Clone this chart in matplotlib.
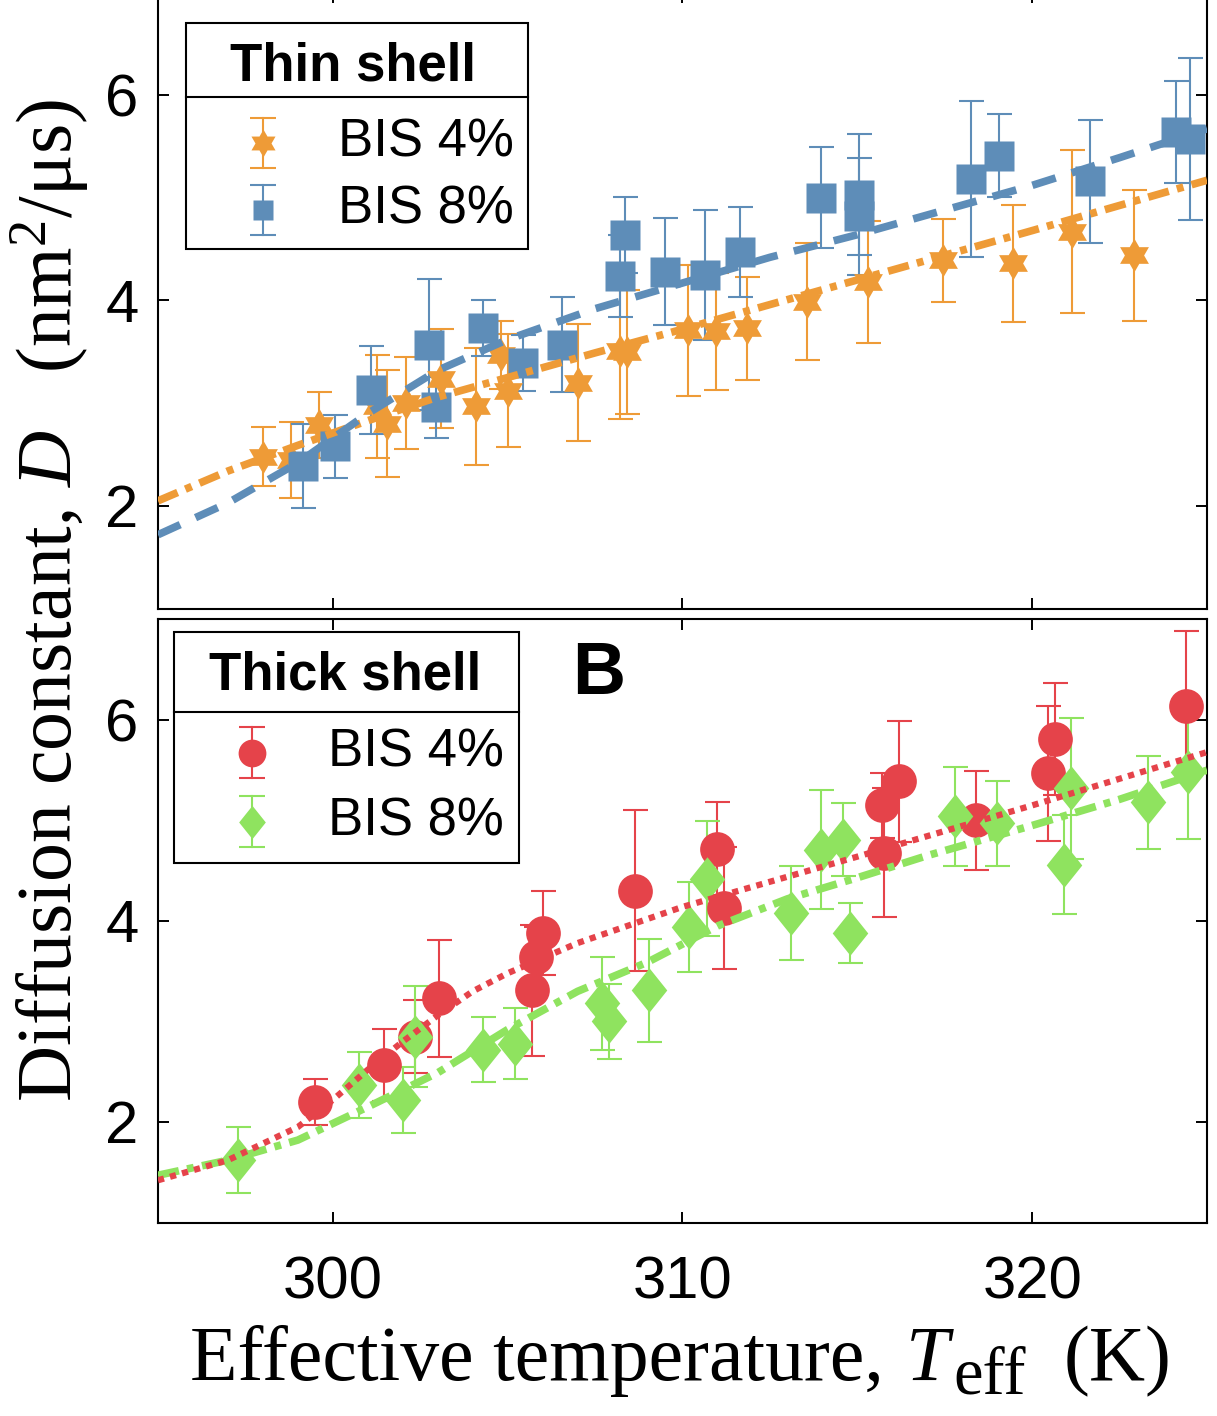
import numpy as np
import matplotlib
matplotlib.use("Agg")
import matplotlib.pyplot as plt
from matplotlib.patches import Rectangle

plt.rcParams["font.family"] = ["Liberation Sans", "DejaVu Sans"]
plt.rcParams["mathtext.fontset"] = "custom"
plt.rcParams["mathtext.rm"] = "Liberation Serif"
plt.rcParams["mathtext.it"] = "Liberation Serif:italic"

# ---- data ----
# thin shell, BIS 4 %
t4_x = [298.0, 298.8, 299.6, 301.25, 301.55, 302.1, 303.1, 304.1, 304.8, 305.0, 307.0,
        308.2, 308.4, 310.15, 310.95, 311.85, 313.55, 315.3, 317.45, 319.45, 321.15, 322.9]
t4_y = [2.48, 2.45, 2.79, 2.97, 2.80, 3.00, 3.24, 2.97, 3.47, 3.12, 3.20,
        3.51, 3.50, 3.71, 3.70, 3.73, 3.99, 4.18, 4.39, 4.36, 4.67, 4.44]
t4_e = [0.29, 0.37, 0.32, 0.50, 0.52, 0.45, 0.48, 0.57, 0.33, 0.55, 0.57,
        0.66, 0.60, 0.64, 0.57, 0.50, 0.57, 0.59, 0.40, 0.57, 0.79, 0.64]

# thin shell, BIS 8 %
t8_x = [299.15, 300.05, 301.1, 302.75, 302.95, 304.3, 305.45, 306.55, 308.2, 308.35, 309.5,
        310.65, 311.65, 313.95, 315.05, 315.05, 318.25, 319.05, 321.65, 324.1, 324.5]
t8_y = [2.39, 2.58, 3.13, 3.57, 2.96, 3.73, 3.39, 3.57, 4.24, 4.64, 4.28,
        4.25, 4.47, 5.00, 5.03, 4.82, 5.18, 5.41, 5.16, 5.64, 5.57]
t8_e = [0.41, 0.31, 0.43, 0.64, 0.30, 0.27, 0.27, 0.46, 0.40, 0.37, 0.52,
        0.63, 0.44, 0.49, 0.59, 0.57, 0.76, 0.40, 0.60, 0.50, 0.79]

# thick shell, BIS 4 %
k4_x = [299.5, 301.45, 302.35, 303.05, 305.7, 305.8, 306.0, 308.65, 311.0, 311.2,
        315.7, 315.75, 316.2, 318.4, 320.45, 320.65, 324.4]
k4_y = [2.20, 2.57, 2.85, 3.23, 3.31, 3.64, 3.88, 4.30, 4.72, 4.13,
        5.15, 4.68, 5.39, 5.00, 5.47, 5.81, 6.14]
k4_e = [0.23, 0.36, 0.36, 0.58, 0.65, 0.30, 0.42, 0.80, 0.46, 0.61,
        0.32, 0.64, 0.60, 0.49, 0.67, 0.56, 0.74]

# thick shell, BIS 8 %
k8_x = [297.3, 300.75, 302.0, 302.35, 304.3, 305.2, 307.7, 307.9, 309.05, 310.2, 310.7,
        313.1, 313.95, 314.6, 314.8, 317.8, 319.0, 320.9, 321.1, 323.3, 324.45]
k8_y = [1.62, 2.37, 2.22, 2.85, 2.72, 2.78, 3.18, 3.00, 3.31, 3.94, 4.42,
        4.08, 4.71, 4.81, 3.88, 5.04, 4.97, 4.56, 5.32, 5.18, 5.48]
k8_e = [0.33, 0.33, 0.33, 0.50, 0.32, 0.35, 0.46, 0.37, 0.51, 0.45, 0.57,
        0.47, 0.59, 0.36, 0.30, 0.49, 0.42, 0.49, 0.70, 0.46, 0.66]

# fitted curves
fit_t4_x = [295, 297, 299, 301, 303, 305, 307.5, 310, 315, 320, 325]
fit_t4_y = [2.05, 2.34, 2.59, 2.83, 3.06, 3.25, 3.49, 3.72, 4.20, 4.68, 5.17]
fit_t8_x = [295, 297, 299, 301, 303, 305, 307.5, 310, 312.5, 315, 317.5, 320, 322.5, 325]
fit_t8_y = [1.72, 2.03, 2.42, 2.90, 3.32, 3.62, 3.92, 4.17, 4.42, 4.64, 4.88, 5.12, 5.39, 5.67]
fit_k4_x = [295, 297, 299, 300, 301, 302, 303, 304, 305, 307, 310, 315, 320, 325]
fit_k4_y = [1.42, 1.62, 1.95, 2.22, 2.52, 2.80, 3.06, 3.30, 3.48, 3.78, 4.14, 4.64, 5.15, 5.68]
fit_k8_x = [295, 297, 299, 301, 303, 305, 307, 309, 311, 313, 315, 317, 320, 322.5, 325]
fit_k8_y = [1.47, 1.62, 1.82, 2.15, 2.49, 2.92, 3.30, 3.59, 3.95, 4.22, 4.43, 4.65, 4.95, 5.21, 5.50]

series_labels = ["BIS 4%", "BIS 8%"]
x_ticks = [300, 310, 320]
y_ticks = [2, 4, 6]

# ---- styles ----
ORANGE = "#EE9B37"
BLUE = "#5E8DB8"
RED = "#E5434A"
GREEN = "#8FE35F"

ang = np.pi / 2 + np.arange(12) * np.pi / 6
rad = np.where(np.arange(12) % 2 == 0, 1.0, 1 / np.sqrt(3))
HEXAGRAM = np.column_stack([rad * np.cos(ang), rad * np.sin(ang)])
DIAMOND = np.array([[0, 1], [0.8, 0], [0, -1], [-0.8, 0], [0, 1]])


def draw_series(ax, x, y, e, color, marker, ms):
    ax.errorbar(x, y, yerr=e, fmt="none", ecolor=color, elinewidth=1.5,
                capsize=9, capthick=1.5, zorder=2)
    ax.plot(x, y, linestyle="none", marker=marker, ms=ms, color=color,
            mec="none", zorder=3)


def draw_legend(ax, box, sep_y, title, title_xy, rows, mark_x, text_x, half):
    x0, y0, x1, y1 = box
    ax.add_patch(Rectangle((x0, y0), x1 - x0, y1 - y0, transform=ax.transAxes,
                           facecolor="white", edgecolor="black", lw=1.5, zorder=10))
    ax.plot([x0, x1], [sep_y, sep_y], color="black", lw=1.5,
            transform=ax.transAxes, zorder=11)
    ax.text(title_xy[0], title_xy[1], title, transform=ax.transAxes, ha="center",
            va="center", fontsize=38, fontweight="bold", zorder=11)
    for (yy, color, marker, ms, label) in rows:
        ax.plot([mark_x, mark_x], [yy - half, yy + half], color=color, lw=1.5,
                marker="_", ms=19, mew=1.5, transform=ax.transAxes, zorder=11)
        ax.plot([mark_x], [yy], marker=marker, ms=ms, color=color, mec="none",
                linestyle="none", transform=ax.transAxes, zorder=12)
        ax.text(text_x, yy, label, transform=ax.transAxes, ha="left",
                va="center", fontsize=38, zorder=11)


fig = plt.figure(figsize=(12.17, 14.16), dpi=100)
ax1 = fig.add_axes([0.1298, 0.5701, 0.862, 0.4354])
ax2 = fig.add_axes([0.1298, 0.13665, 0.862, 0.4259])

# top panel: thin shell
draw_series(ax1, t4_x, t4_y, t4_e, ORANGE, HEXAGRAM, 24)
draw_series(ax1, t8_x, t8_y, t8_e, BLUE, "s", 22)
ax1.plot(fit_t4_x, fit_t4_y, color=ORANGE, lw=5.5, dashes=(2.8, 1.1, 0.9, 1.1),
         dash_capstyle="butt", zorder=4)
ax1.plot(fit_t8_x, fit_t8_y, color=BLUE, lw=5.5, dashes=(3.2, 2.2),
         dash_capstyle="butt", zorder=4)

# bottom panel: thick shell
draw_series(ax2, k4_x, k4_y, k4_e, RED, "o", 25)
draw_series(ax2, k8_x, k8_y, k8_e, GREEN, DIAMOND, 32)
ax2.plot(fit_k8_x, fit_k8_y, color=GREEN, lw=5.5, dashes=(2.8, 1.1, 0.9, 1.1),
         dash_capstyle="butt", zorder=4)
ax2.plot(fit_k4_x, fit_k4_y, color=RED, lw=4.5, dashes=(1.0, 1.0),
         dash_capstyle="butt", zorder=5)

for ax in (ax1, ax2):
    ax.set_xlim(295, 325)
    ax.set_ylim(1, 7)
    ax.set_xticks(x_ticks)
    ax.set_yticks(y_ticks)
    ax.tick_params(direction="in", length=8, width=1.4, top=True, right=True,
                   labelsize=43)
    ax.tick_params(axis="x", pad=24)
    ax.tick_params(axis="y", pad=14)
    for s in ax.spines.values():
        s.set_linewidth(1.5)
ax1.tick_params(labelbottom=False)

draw_legend(ax1, (0.0267, 0.5835, 0.3527, 0.950), 0.8298, "Thin shell",
            (0.1859, 0.8800),
            [(0.7561, ORANGE, HEXAGRAM, 20, series_labels[0]),
             (0.6468, BLUE, "s", 15, series_labels[1])],
            0.1001, 0.1715, 0.0406)
draw_legend(ax2, (0.0153, 0.5962, 0.3441, 0.9793), 0.8466, "Thick shell",
            (0.1783, 0.9070),
            [(0.7786, RED, "o", 20, series_labels[0]),
             (0.6642, GREEN, DIAMOND, 24, series_labels[1])],
            0.0896, 0.1621, 0.0423)

ax2.text(0.4204, 0.908, "B", transform=ax2.transAxes, ha="center", va="center",
         fontsize=53, fontweight="bold")

# x label built from pieces so that the subscript stays large, as in the original
W, H = fig.get_size_inches() * fig.dpi
renderer = fig.canvas.get_renderer()
base_y = 1380
pieces = [("Effective temperature,", "normal", 56, 0, 22),
          ("T", "italic", 56, 0, 4),
          ("eff", "normal", 48, -14, 38),
          ("(K)", "normal", 56, 0, 0)]
cur_x = 190
for txt, style, size, dy, gap in pieces:
    t = fig.text(cur_x / W, 1 - (base_y - dy) / H, txt, ha="left", va="baseline",
                 fontsize=size, family="Liberation Serif", style=style)
    cur_x += t.get_window_extent(renderer).width + gap

fig.text(0.041, 0.576, r"Diffusion constant, $D$   (nm$^2$/μs)", rotation=90,
         ha="center", va="center", fontsize=56, family="Liberation Serif")

fig.savefig("out.png", dpi=100)
